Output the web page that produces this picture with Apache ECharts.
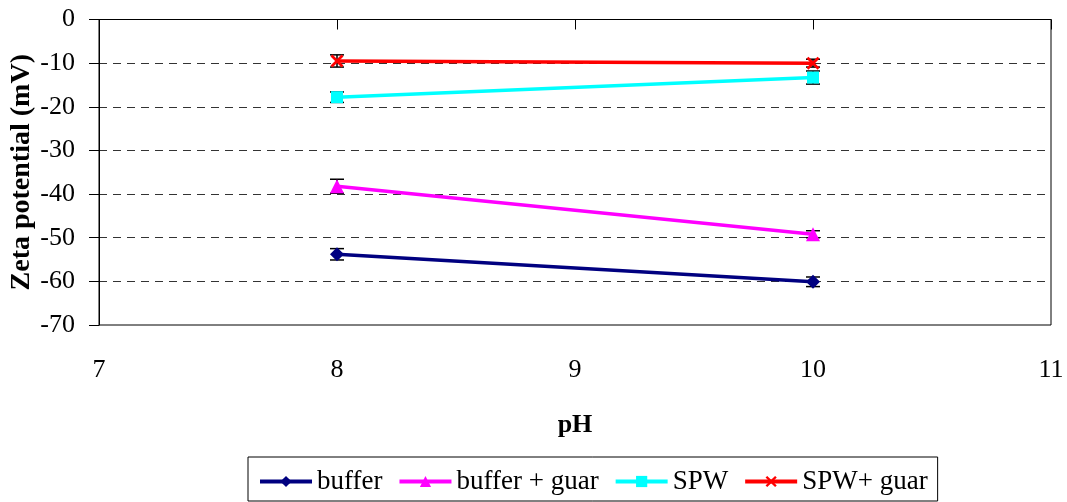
<!DOCTYPE html>
<html>
<head>
<meta charset="utf-8">
<script src="https://cdn.jsdelivr.net/npm/echarts@6/dist/echarts.min.js"></script>
<style>
  html, body { margin: 0; padding: 0; background: #fff; }
  #chart { width: 1067px; height: 502px; }
</style>
</head>
<body>
<div id="chart"></div>
<script>
// pH values at which zeta potential was measured
const phValues = [8, 10];

// Mean zeta potential (mV) per sample
const bufferValues = [-53.8, -60.1];
const bufferGuarValues = [-38.2, -49.2];
const spwValues = [-17.8, -13.3];
const spwGuarValues = [-9.5, -10.0];

// Standard deviation (mV) per sample
const bufferErr = [1.3, 1.1];
const bufferGuarErr = [1.6, 0.8];
const spwErr = [1.2, 1.5];
const spwGuarErr = [1.4, 0.9];

const seriesNames = ['buffer', 'buffer + guar', 'SPW', 'SPW+ guar'];

const FONT = '"Liberation Serif", "Times New Roman", serif';
const crossPath = 'path://M0,1.5L1.5,0L5,3.5L8.5,0L10,1.5L6.5,5L10,8.5L8.5,10L5,6.5L1.5,10L0,8.5L3.5,5Z';

function pairs(vals) {
  return phValues.map((x, i) => [x, vals[i]]);
}
function errPairs(vals, errs) {
  return phValues.map((x, i) => [x, vals[i] - errs[i], vals[i] + errs[i]]);
}

// Vertical error bar with caps, drawn through the axis scales
function errorBarSeries(vals, errs) {
  return {
    type: 'custom',
    silent: true,
    z: 1,
    data: errPairs(vals, errs),
    renderItem: function (params, api) {
      const lo = api.coord([api.value(0), api.value(1)]);
      const hi = api.coord([api.value(0), api.value(2)]);
      const hw = 7;
      const style = { stroke: '#000', lineWidth: 1.5 };
      return {
        type: 'group',
        children: [
          { type: 'line', shape: { x1: lo[0], y1: lo[1], x2: hi[0], y2: hi[1] }, style: style },
          { type: 'line', shape: { x1: lo[0] - hw, y1: lo[1], x2: lo[0] + hw, y2: lo[1] }, style: style },
          { type: 'line', shape: { x1: hi[0] - hw, y1: hi[1], x2: hi[0] + hw, y2: hi[1] }, style: style }
        ]
      };
    }
  };
}

function lineSeries(name, vals, color, symbol, size) {
  return {
    name: name,
    type: 'line',
    z: 3,
    data: pairs(vals),
    symbol: symbol,
    symbolSize: size,
    lineStyle: { color: color, width: 3.5 },
    itemStyle: { color: color },
    animation: false
  };
}

const chart = echarts.init(document.getElementById('chart'), null, { renderer: 'canvas' });

chart.setOption({
  animation: false,
  backgroundColor: '#fff',
  grid: {
    left: 99, right: 16, top: 19.5, bottom: 177,
    outerBoundsMode: 'none',
    containLabel: false,
    show: true, borderColor: '#000', borderWidth: 1, backgroundColor: 'transparent'
  },
  legend: {
    data: seriesNames,
    top: 457,
    left: 248,
    padding: [11, 10, 6, 10],
    itemGap: 15,
    itemWidth: 52,
    itemHeight: 14,
    borderColor: '#000',
    borderWidth: 1,
    borderRadius: 0,
    lineStyle: { width: 4 },
    textStyle: { fontFamily: FONT, fontSize: 27, color: '#000' }
  },
  xAxis: {
    type: 'value',
    min: 7, max: 11, interval: 1,
    name: 'pH',
    nameLocation: 'middle',
    nameGap: 87,
    nameMoveOverlap: false,
    nameTextStyle: { fontFamily: FONT, fontSize: 26, fontWeight: 'bold', color: '#000' },
    axisLine: { show: true, lineStyle: { color: '#000', width: 1 } },
    axisTick: { show: true, length: 10, lineStyle: { color: '#000' } },
    axisLabel: { fontFamily: FONT, fontSize: 26, color: '#000', margin: 32 },
    splitLine: { show: false }
  },
  yAxis: {
    type: 'value',
    min: -70, max: 0, interval: 10,
    name: 'Zeta potential (mV)',
    nameLocation: 'middle',
    nameGap: 63,
    nameRotate: 90,
    nameMoveOverlap: false,
    nameTextStyle: { fontFamily: FONT, fontSize: 28, fontWeight: 'bold', color: '#000' },
    axisLine: { show: true, lineStyle: { color: '#000', width: 1 } },
    axisTick: { show: true, length: 10, inside: false, lineStyle: { color: '#000' } },
    axisLabel: { fontFamily: FONT, fontSize: 26, color: '#000', margin: 24 },
    splitLine: {
      show: true,
      showMinLine: false,
      showMaxLine: false,
      lineStyle: { color: '#333', width: 1, type: [8, 6] }
    }
  },
  series: [
    lineSeries(seriesNames[0], bufferValues, '#000080', 'diamond', 14),
    lineSeries(seriesNames[1], bufferGuarValues, '#FF00FF', 'triangle', 14),
    lineSeries(seriesNames[2], spwValues, '#00FFFF', 'rect', 12),
    lineSeries(seriesNames[3], spwGuarValues, '#FF0000', crossPath, 13),
    errorBarSeries(bufferValues, bufferErr),
    errorBarSeries(bufferGuarValues, bufferGuarErr),
    errorBarSeries(spwValues, spwErr),
    errorBarSeries(spwGuarValues, spwGuarErr)
  ]
});
</script>
</body>
</html>
